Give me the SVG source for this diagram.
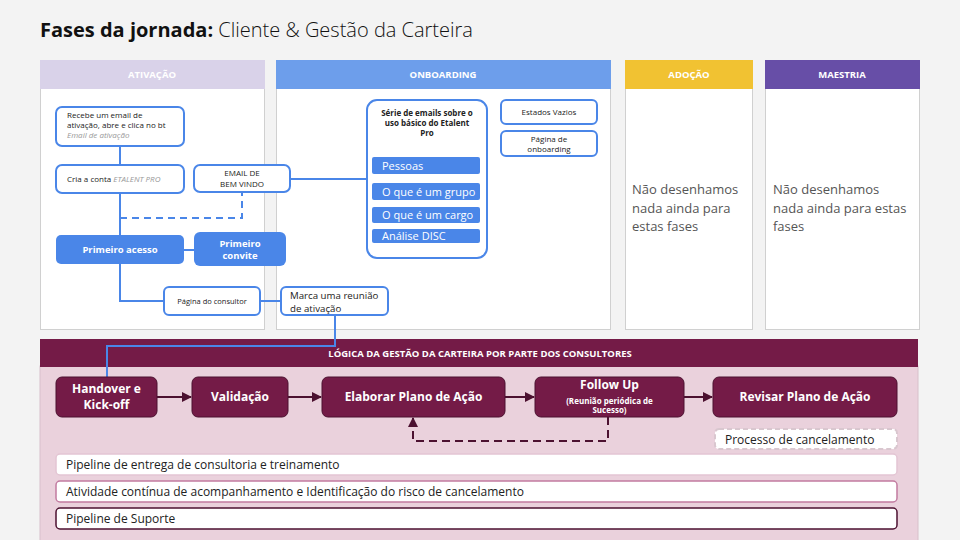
<svg xmlns="http://www.w3.org/2000/svg" width="960" height="540" viewBox="0 0 960 540">
<style>
text{font-family:"Open Sans","Noto Sans","Liberation Sans",sans-serif;}
.hdr{font-size:9.5px;font-weight:700;fill:#fff;text-anchor:middle;}
.col{fill:#fff;stroke:#d0d0d0;stroke-width:1;}
.bn{fill:#fff;stroke:#4a86e8;stroke-width:2;}
.bf{fill:#4a86e8;}
.t8{font-size:8px;fill:#222;}
.t10{font-size:9.7px;fill:#222;}
.t7{font-size:7.5px;fill:#222;}
.it{font-style:italic;fill:#999;}
.wb{font-weight:700;fill:#fff;text-anchor:middle;}
.mn{fill:#741b47;stroke:#4c1130;stroke-width:1;}
.line{fill:none;stroke:#4a86e8;stroke-width:2;}
.dash{fill:none;stroke:#4a86e8;stroke-width:2;stroke-dasharray:7 5;}
.arr{fill:none;stroke:#4c1130;stroke-width:2;}
.note{font-size:13px;fill:#555;}
.row{fill:#fff;stroke-width:1.5;}
.rt{font-size:12px;fill:#222;}
.it11{font-size:11px;fill:#fff;}
</style>
<defs>
<marker id="ah" viewBox="0 0 10 10" refX="9" refY="5" markerWidth="5" markerHeight="5" orient="auto-start-reverse"><path d="M0,0 L10,5 L0,10 z" fill="#4c1130"/></marker>
</defs>
<rect x="0" y="0" width="960" height="540" fill="#f3f3f3"/>
<g id="title">
<text x="40" y="37" font-size="20" fill="#111"><tspan font-weight="700">Fases da jornada:</tspan><tspan font-weight="300"> Cliente &amp; Gestão da Carteira</tspan></text>
</g>
<g id="col-ativacao">
<rect class="col" x="40.5" y="88.5" width="224" height="241"/>
<rect x="40" y="60" width="225" height="29" fill="#d9d2e9"/>
<text class="hdr" x="152" y="77.5">ATIVAÇÃO</text>
</g>
<g id="col-onboarding">
<rect class="col" x="276.5" y="88.5" width="334" height="241"/>
<rect x="276" y="60" width="335" height="29" fill="#6d9eeb"/>
<text class="hdr" x="443" y="77.5">ONBOARDING</text>
</g>
<g id="col-adocao">
<rect class="col" x="625.5" y="88.5" width="127" height="241"/>
<rect x="625" y="60" width="128" height="29" fill="#f1c232"/>
<text class="hdr" x="689" y="77.5">ADOÇÃO</text>
<text class="note" x="632" y="194">Não desenhamos</text>
<text class="note" x="632" y="213">nada ainda para</text>
<text class="note" x="632" y="231">estas fases</text>
</g>
<g id="col-maestria">
<rect class="col" x="765.5" y="88.5" width="154" height="241"/>
<rect x="765" y="60" width="155" height="29" fill="#674ea7"/>
<text class="hdr" x="842" y="77.5">MAESTRIA</text>
<text class="note" x="773" y="194">Não desenhamos</text>
<text class="note" x="773" y="213">nada ainda para estas</text>
<text class="note" x="773" y="231">fases</text>
</g>
<g id="gestao">
<rect x="40" y="366" width="878" height="180" fill="#ead1dc" stroke="#d8c0cb"/>
<rect x="40" y="339" width="878" height="28" fill="#741b47"/>
<text class="hdr" x="480" y="356.5">LÓGICA DA GESTÃO DA CARTEIRA POR PARTE DOS CONSULTORES</text>
</g>
<g id="connectors">
<path class="line" d="M120,146 V165"/>
<path class="line" d="M120,193 V235"/>
<path class="dash" d="M120,218 H242 V193"/>
<path class="line" d="M184,250 H194"/>
<path class="line" d="M120,264 V301 H164"/>
<path class="line" d="M260,301 H281"/>
<path class="line" d="M290,179 H367"/>
<path class="line" d="M335,315 V346 H107 V377"/>
<path class="arr" d="M157,397 H191" marker-end="url(#ah)"/>
<path class="arr" d="M288,397 H321" marker-end="url(#ah)"/>
<path class="arr" d="M505,397 H534" marker-end="url(#ah)"/>
<path class="arr" d="M684,397 H712" marker-end="url(#ah)"/>
<path class="arr" d="M608,417 V441 H413 V418" stroke-dasharray="8 5" marker-end="url(#ah)"/>
</g>
<g id="n-recebe">
<rect class="bn" x="56" y="107" width="128" height="39" rx="6"/>
<text class="t8" x="67" y="118">Recebe um email de</text>
<text class="t8" x="67" y="128">ativação, abre e clica no bt</text>
<text class="t8 it" x="67" y="138">Email de ativação</text>
</g>
<g id="n-cria">
<rect class="bn" x="56" y="165" width="128" height="28" rx="6"/>
<text class="t8" x="67" y="182">Cria a conta <tspan class="it">ETALENT PRO</tspan></text>
</g>
<g id="n-email-bem-vindo">
<rect class="bn" x="194" y="165" width="96" height="27" rx="6"/>
<text class="t8" x="242" y="176" text-anchor="middle">EMAIL DE</text>
<text class="t8" x="242" y="187" text-anchor="middle">BEM VINDO</text>
</g>
<g id="n-primeiro-acesso">
<rect class="bf" x="56" y="235" width="128" height="29" rx="5"/>
<text class="wb" x="120" y="253" font-size="9.5">Primeiro acesso</text>
</g>
<g id="n-primeiro-convite">
<rect class="bf" x="194" y="232" width="92" height="34" rx="6"/>
<text class="wb" x="240" y="247" font-size="9.5">Primeiro</text>
<text class="wb" x="240" y="259" font-size="9.5">convite</text>
</g>
<g id="n-pagina-consultor">
<rect class="bn" x="164" y="287" width="96" height="28" rx="5"/>
<text class="t7" x="212" y="304" text-anchor="middle">Página do consultor</text>
</g>
<g id="n-marca-reuniao">
<rect class="bn" x="281" y="287" width="107" height="28" rx="5"/>
<text class="t10" x="290" y="298.5">Marca uma reunião</text>
<text class="t10" x="290" y="312">de ativação</text>
</g>
<g id="n-serie-emails">
<rect class="bn" x="367" y="100" width="120" height="158" rx="10"/>
<text class="t8" x="427" y="116" text-anchor="middle" font-weight="700">Série de emails sobre o</text>
<text class="t8" x="427" y="126" text-anchor="middle" font-weight="700">uso básico do Etalent</text>
<text class="t8" x="427" y="136" text-anchor="middle" font-weight="700">Pro</text>
<rect class="bf" x="372" y="157" width="108" height="17" rx="2"/>
<text class="it11" x="382" y="169.5">Pessoas</text>
<rect class="bf" x="372" y="183" width="108" height="17" rx="2"/>
<text class="it11" x="382" y="195.5">O que é um grupo</text>
<rect class="bf" x="372" y="207" width="108" height="16" rx="2"/>
<text class="it11" x="382" y="219">O que é um cargo</text>
<rect class="bf" x="372" y="229" width="108" height="14" rx="2"/>
<text class="it11" x="382" y="240">Análise DISC</text>
</g>
<g id="n-estados-vazios">
<rect class="bn" x="501" y="100" width="96" height="24" rx="5"/>
<text class="t8" x="549" y="114.5" text-anchor="middle">Estados Vazios</text>
</g>
<g id="n-pagina-onboarding">
<rect class="bn" x="501" y="131" width="96" height="25" rx="5"/>
<text class="t8" x="549" y="141.5" text-anchor="middle">Página de</text>
<text class="t8" x="549" y="151.5" text-anchor="middle">onboarding</text>
</g>
<g id="n-handover">
<rect class="mn" x="56" y="377" width="101" height="40" rx="6"/>
<text class="wb" x="106.5" y="392.5" font-size="12">Handover e</text>
<text class="wb" x="106.5" y="408.5" font-size="12">Kick-off</text>
</g>
<g id="n-validacao">
<rect class="mn" x="192" y="377" width="96" height="40" rx="6"/>
<text class="wb" x="240" y="401" font-size="12">Validação</text>
</g>
<g id="n-elaborar">
<rect class="mn" x="322" y="377" width="183" height="40" rx="6"/>
<text class="wb" x="413.5" y="401" font-size="12">Elaborar Plano de Ação</text>
</g>
<g id="n-followup">
<rect class="mn" x="535" y="377" width="149" height="40" rx="6"/>
<text class="wb" x="609.5" y="389" font-size="12">Follow Up</text>
<text class="wb" x="609.5" y="403.5" font-size="8">(Reunião periódica de</text>
<text class="wb" x="609.5" y="413" font-size="8">Sucesso)</text>
</g>
<g id="n-revisar">
<rect class="mn" x="713" y="377" width="184" height="40" rx="6"/>
<text class="wb" x="805" y="401" font-size="12">Revisar Plano de Ação</text>
</g>
<g id="n-cancelamento">
<rect x="715" y="429" width="182" height="20" rx="4" fill="#fff" stroke="#d9c7cf" stroke-width="2" stroke-dasharray="5 3"/>
<text x="725" y="443.5" font-size="12" fill="#222">Processo de cancelamento</text>
</g>
<g id="row-pipeline-entrega">
<rect class="row" x="56" y="454" width="841" height="21" rx="4" stroke="#e3c5d3"/>
<text class="rt" x="66" y="469">Pipeline de entrega de consultoria e treinamento</text>
</g>
<g id="row-atividade">
<rect class="row" x="56" y="481" width="841" height="21" rx="4" stroke="#c27ba0"/>
<text class="rt" x="66" y="496">Atividade contínua de acompanhamento e Identificação do risco de cancelamento</text>
</g>
<g id="row-suporte">
<rect class="row" x="56" y="508" width="841" height="21" rx="4" stroke="#4c1130"/>
<text class="rt" x="66" y="523">Pipeline de Suporte</text>
</g>
</svg>
